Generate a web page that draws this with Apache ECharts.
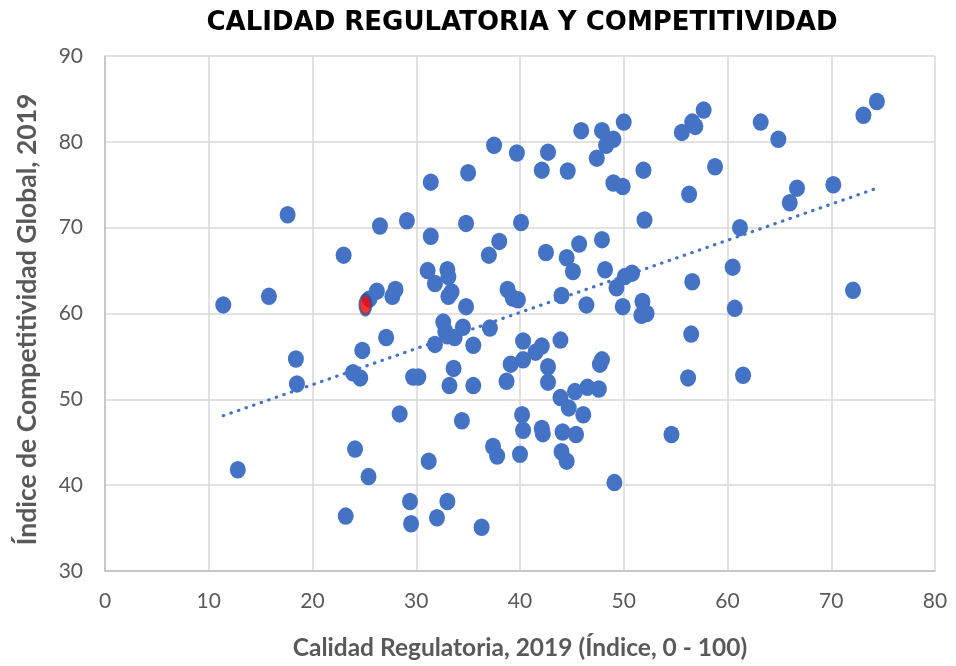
<!DOCTYPE html>
<html>
<head>
<meta charset="utf-8">
<script src="https://cdn.jsdelivr.net/npm/echarts@6/dist/echarts.min.js"></script>
<style>
html,body{margin:0;padding:0;background:#fff;}
#c{width:956px;height:666px;}
</style>
</head>
<body>
<div id="c"></div>
<script>
// Calidad Regulatoria, 2019 (x) and Índice de Competitividad Global, 2019 (y)
var regQuality = [
11.4,12.8,15.8,17.6,18.4,18.5,23.0,23.2,23.9,24.1,24.6,24.8,25.5,26.2,25.4,26.5,27.1,27.7,28.0,28.4,
29.1,29.4,29.5,29.7,30.2,31.1,31.4,31.4,31.2,31.8,31.8,32.0,32.6,32.8,33.0,33.7,34.5,33.0,33.1,33.4,
33.1,33.0,33.2,33.6,34.4,34.8,34.8,35.0,35.5,35.5,36.3,37.0,37.1,37.4,37.8,37.5,38.0,38.7,38.8,39.1,
39.3,39.8,39.7,40.0,40.2,40.3,40.1,40.3,40.3,41.5,42.1,42.1,42.1,42.2,42.5,42.7,42.7,42.7,43.9,43.9,
44.0,44.0,44.5,44.1,44.5,44.6,44.7,45.1,45.3,45.4,45.7,45.9,46.1,46.4,46.5,47.4,47.6,47.7,47.9,47.9,
47.9,48.2,48.3,49.0,49.0,49.1,49.3,49.9,49.9,50.0,50.1,50.8,51.8,51.7,52.2,51.9,52.0,54.6,55.6,56.2,
56.3,56.5,56.6,56.6,56.9,57.7,58.8,60.5,60.7,61.2,61.5,63.2,64.9,66.0,66.7,70.2,72.1,73.1,74.4
];
var competitiveness = [
61.0,41.8,62.0,71.5,54.7,51.8,66.8,36.4,53.1,44.2,52.5,55.7,61.7,62.6,41.0,70.2,57.2,62.0,62.8,48.3,
70.8,38.1,35.5,52.6,52.6,65.0,75.3,69.0,42.8,63.5,56.4,36.2,59.0,57.9,57.4,57.2,58.4,65.1,64.3,62.5,
62.0,38.1,51.6,53.6,47.5,60.8,70.5,76.4,56.3,51.6,35.1,66.8,58.3,44.5,43.4,79.6,68.4,52.1,62.8,54.1,
61.8,61.6,78.7,43.6,48.2,46.4,70.6,56.8,54.6,55.5,56.2,76.7,46.6,46.0,67.1,78.8,53.8,52.0,50.2,56.9,
62.1,43.9,42.8,46.2,66.5,76.6,49.0,64.9,50.9,45.9,68.1,81.3,48.2,61.0,51.4,78.1,51.2,54.1,54.6,81.3,
68.6,65.1,79.6,80.3,75.2,40.3,63.0,74.8,60.8,82.3,64.3,64.7,61.4,59.8,60.0,76.7,70.9,45.9,81.1,52.5,
73.9,57.6,63.7,82.3,81.8,83.7,77.1,65.4,60.6,70.0,52.8,82.3,80.3,72.9,74.6,75.0,62.7,83.1,84.7
];
// highlighted country (red marker)
var highlightX = [25.1];
var highlightY = [61.0];
var xTicks = [0,10,20,30,40,50,60,70,80];
var yTicks = [30,40,50,60,70,80,90];

var points = regQuality.map(function(x,i){return [x, competitiveness[i]];});

// linear trendline (least squares), spanning data x range
var n = regQuality.length, sx=0, sy=0, sxx=0, sxy=0;
for (var i=0;i<n;i++){var a=regQuality[i], b=competitiveness[i]; sx+=a; sy+=b; sxx+=a*a; sxy+=a*b;}
var slope = (n*sxy - sx*sy)/(n*sxx - sx*sx);
var intercept = (sy - slope*sx)/n;
var xmin = Math.min.apply(null, regQuality), xmax = Math.max.apply(null, regQuality);
var trend = [[xmin, intercept+slope*xmin],[xmax, intercept+slope*xmax]];

var chart = echarts.init(document.getElementById('c'), null, {renderer:'canvas'});
var grey = '#595959';
var labelFont = 'Lato, "Open Sans", sans-serif';
chart.setOption({
  animation:false,
  backgroundColor:'#ffffff',
  title:{
    text:'CALIDAD REGULATORIA Y COMPETITIVIDAD',
    left:517, top:5, textAlign:'center',
    textStyle:{fontFamily:'"DejaVu Sans", "Liberation Sans", Arial, sans-serif', fontWeight:'bold', fontSize:26, color:'#000'}
  },
  grid:{left:105, right:21, top:56, bottom:92, containLabel:false},
  xAxis:{
    type:'value', min:xTicks[0], max:xTicks[xTicks.length-1], interval:10,
    name:'Calidad Regulatoria, 2019 (Índice, 0 - 100)',
    nameLocation:'middle', nameGap:65,
    nameTextStyle:{fontFamily:labelFont, fontWeight:'bold', fontSize:24.5, color:grey},
    axisLine:{show:true, lineStyle:{color:'#BFBFBF', width:1.5}},
    axisTick:{show:false},
    axisLabel:{color:grey, fontFamily:labelFont, fontSize:21, margin:20},
    splitLine:{show:true, lineStyle:{color:'#D9D9D9', width:1.5}}
  },
  yAxis:{
    type:'value', min:yTicks[0], max:yTicks[yTicks.length-1], interval:10,
    name:'Índice de Competitividad Global, 2019',
    nameLocation:'middle', nameGap:64, nameRotate:90,
    nameTextStyle:{fontFamily:labelFont, fontWeight:'bold', fontSize:26.5, color:grey, padding:[0,12,0,0]},
    axisLine:{show:true, lineStyle:{color:'#BFBFBF', width:1.5}},
    axisTick:{show:false},
    axisLabel:{color:grey, fontFamily:labelFont, fontSize:21, margin:22},
    splitLine:{show:true, lineStyle:{color:'#D9D9D9', width:1.5}}
  },
  series:[
    {
      type:'scatter', data:points, symbol:'circle', symbolSize:[16,17.5],
      itemStyle:{color:'#4472C4', opacity:1}, z:3
    },
    {
      type:'line', data:trend, showSymbol:false, symbol:'none',
      lineStyle:{color:'#4472C4', width:3.2, type:[0.5,7.5], cap:'round'}, z:4
    },
    {
      type:'scatter', data:highlightX.map(function(x,i){return [x, highlightY[i]];}),
      symbol:'circle', symbolSize:[12,20],
      itemStyle:{color:'#FF0000', borderColor:'#2F528F', borderWidth:2.5}, z:5
    }
  ]
});
</script>
</body>
</html>
